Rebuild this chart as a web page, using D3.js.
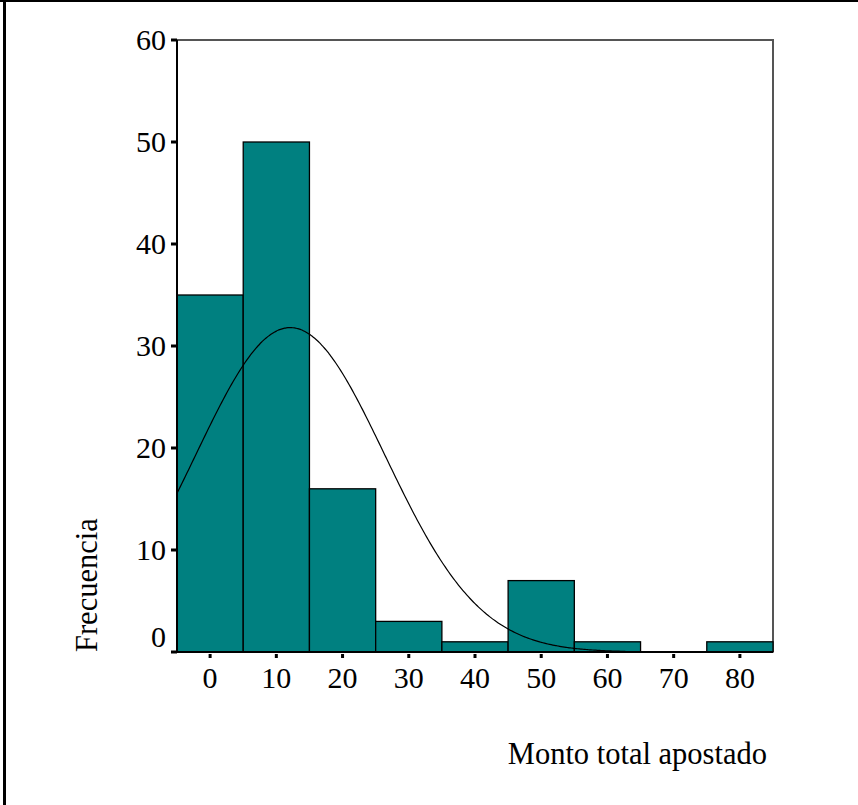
<!DOCTYPE html>
<html>
<head>
<meta charset="utf-8">
<script src="https://cdn.jsdelivr.net/npm/d3@7"></script>
<style>
  html, body { margin: 0; padding: 0; background: #fff; }
  svg { display: block; }
  text { font-family: "Liberation Serif", "Times New Roman", serif; fill: #000; }
</style>
</head>
<body>
<svg id="chart"></svg>
<script>
// histograma: centros de intervalo y frecuencias
const binCenters = [0, 10, 20, 30, 40, 50, 60, 70, 80];
const frequencies = [35, 50, 16, 3, 1, 7, 1, 0, 1];
const binWidth = 10;
const yTicks = [0, 10, 20, 30, 40, 50, 60];
const xTicks = [0, 10, 20, 30, 40, 50, 60, 70, 80];

// curva normal ajustada
const curveMean = 12.1;
const curveSd = 14.3;
const curveRange = [-5, 62.7];

const width = 858, height = 805;
const margin = { top: 40, right: 85, bottom: 153, left: 177 };

const svg = d3.select("#chart")
  .attr("width", width)
  .attr("height", height);

// marco exterior (solo izquierda y arriba visibles)
svg.append("line").attr("x1", 4.5).attr("x2", 4.5).attr("y1", 0).attr("y2", height)
  .attr("stroke", "#000").attr("stroke-width", 3);
svg.append("line").attr("x1", 0).attr("x2", width).attr("y1", 1).attr("y2", 1)
  .attr("stroke", "#000").attr("stroke-width", 2);

const x = d3.scaleLinear()
  .domain([-5, 85])
  .range([margin.left, width - margin.right]);

const y = d3.scaleLinear()
  .domain([0, 60])
  .range([height - margin.bottom, margin.top]);

// borde superior y derecho del área de trazado
svg.append("path")
  .attr("d", `M${x(-5)},${y(60)}H${x(85)}V${y(0)}`)
  .attr("fill", "none")
  .attr("stroke", "#555")
  .attr("stroke-width", 2);

// barras
svg.selectAll("rect.bar")
  .data(binCenters.map((c, i) => ({ c, f: frequencies[i] })).filter(d => d.f > 0))
  .enter()
  .append("rect")
  .attr("class", "bar")
  .attr("x", d => x(d.c - binWidth / 2))
  .attr("y", d => y(d.f))
  .attr("width", d => x(d.c + binWidth / 2) - x(d.c - binWidth / 2))
  .attr("height", d => y(0) - y(d.f))
  .attr("fill", "#008080")
  .attr("stroke", "#000")
  .attr("stroke-width", 1.3);

// curva normal
const total = d3.sum(frequencies);
const normal = v => total * binWidth * Math.exp(-0.5 * ((v - curveMean) / curveSd) ** 2) / (curveSd * Math.sqrt(2 * Math.PI));
const curvePts = d3.range(curveRange[0], curveRange[1], 0.25).concat([curveRange[1]]);

svg.append("path")
  .datum(curvePts)
  .attr("d", d3.line().x(d => x(d)).y(d => y(normal(d))).curve(d3.curveBasis))
  .attr("fill", "none")
  .attr("stroke", "#000")
  .attr("stroke-width", 1.2);

// eje y
svg.append("line")
  .attr("x1", x(-5)).attr("x2", x(-5))
  .attr("y1", y(60)).attr("y2", y(0) + 1)
  .attr("stroke", "#000").attr("stroke-width", 2);

svg.selectAll("rect.ytick")
  .data(yTicks)
  .enter()
  .append("rect")
  .attr("class", "ytick")
  .attr("x", x(-5) - 6)
  .attr("y", d => y(d) - 1.5)
  .attr("width", 6)
  .attr("height", 3)
  .attr("fill", "#000");

svg.selectAll("text.ylab")
  .data(yTicks)
  .enter()
  .append("text")
  .attr("class", "ylab")
  .attr("x", x(-5) - 11)
  .attr("y", d => y(d) + (d === 0 ? -5 : 10))
  .attr("text-anchor", "end")
  .style("font-size", "30px")
  .text(d => d);

// eje x
svg.append("line")
  .attr("x1", x(-5) - 1).attr("x2", x(85))
  .attr("y1", y(0)).attr("y2", y(0))
  .attr("stroke", "#000").attr("stroke-width", 2);

svg.selectAll("rect.xtick")
  .data(xTicks)
  .enter()
  .append("rect")
  .attr("class", "xtick")
  .attr("x", d => x(d) - 1.5)
  .attr("y", y(0) + 2)
  .attr("width", 3)
  .attr("height", 4)
  .attr("fill", "#000");

svg.selectAll("text.xlab")
  .data(xTicks)
  .enter()
  .append("text")
  .attr("class", "xlab")
  .attr("x", d => x(d))
  .attr("y", y(0) + 36)
  .attr("text-anchor", "middle")
  .style("font-size", "30px")
  .text(d => d);

// títulos de ejes
svg.append("text")
  .attr("transform", `translate(97,${y(0)}) rotate(-90)`)
  .attr("text-anchor", "start")
  .style("font-size", "30.5px")
  .text("Frecuencia");

svg.append("text")
  .attr("x", 767)
  .attr("y", 764)
  .attr("text-anchor", "end")
  .style("font-size", "30.5px")
  .text("Monto total apostado");
</script>
</body>
</html>
